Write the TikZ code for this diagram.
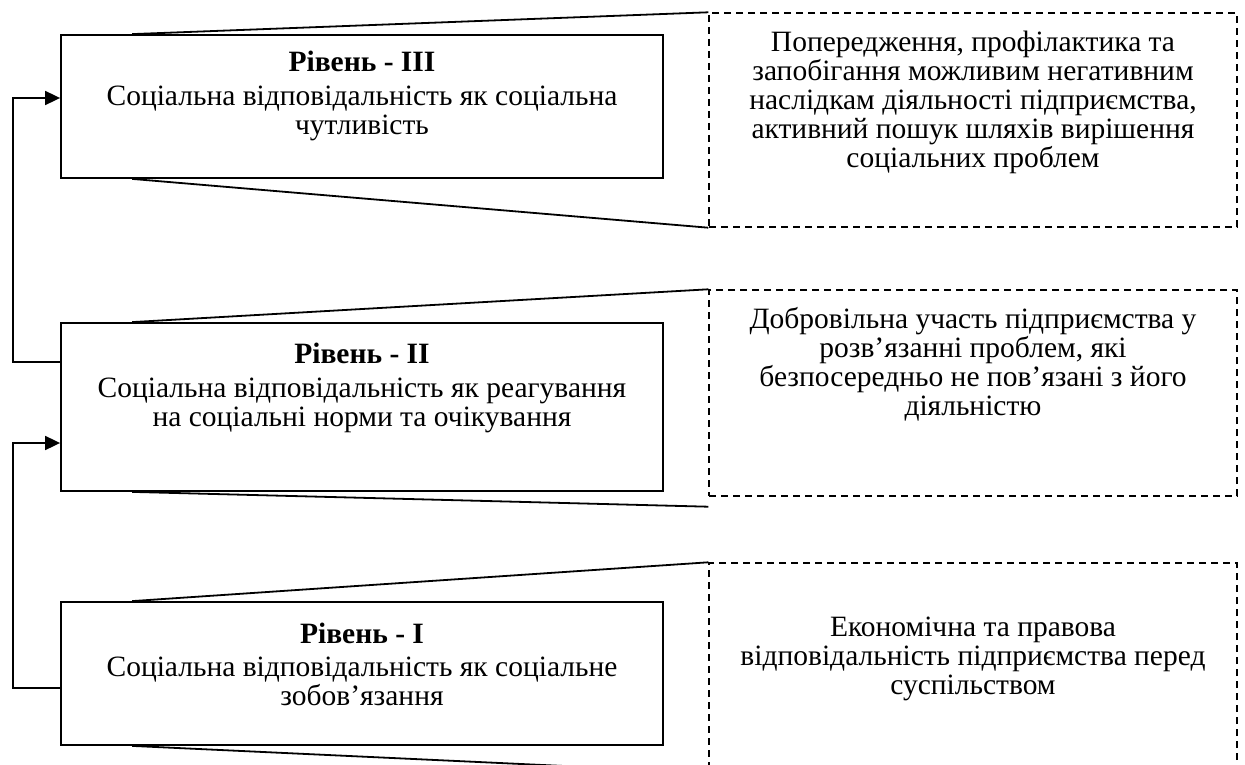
\documentclass[tikz,border=0pt]{standalone}
\usepackage{fontspec}
\setmainfont{Liberation Serif}
\usetikzlibrary{arrows.meta}
\begin{document}
\begin{tikzpicture}[x=1pt,y=-1pt,
  lvlbox/.style={draw, line width=1.8pt, minimum width=602pt, minimum height=143pt, inner sep=0pt},
  descbox/.style={draw, line width=1.4pt, dash pattern=on 7pt off 5pt, minimum width=528pt, inner sep=0pt},
  txt/.style={align=center, inner sep=0pt, font=\fontsize{29.5}{29}\selectfont},
  callout/.style={line width=1.8pt},
  conn/.style={line width=1.8pt, -{Triangle[length=15pt,width=14pt]}}]
\useasboundingbox (0,0) rectangle (1245,765);
\clip (0,0) rectangle (1245,765);
\fill[white] (0,0) rectangle (1245,765);

% level boxes
\node[lvlbox] (b3) at (362,106.5) {};
\node[lvlbox, minimum height=168pt] (b2) at (362,407) {};
\node[lvlbox] (b1) at (362,673.5) {};

% description boxes
\node[descbox, minimum height=214pt] (d3) at (973,120) {};
\node[descbox, minimum height=206pt] (d2) at (973,393) {};
\node[descbox, minimum height=209pt] (d1) at (973,667.5) {};

% callout lines
\draw[callout] ([xshift=72pt]b3.north west) -- (d3.north west);
\draw[callout] ([xshift=72pt]b3.south west) -- (d3.south west);
\draw[callout] ([xshift=72pt]b2.north west) -- (d2.north west);
\draw[callout] ([xshift=72pt]b2.south west) -- ([yshift=-10pt]d2.south west);
\draw[callout] ([xshift=72pt]b1.north west) -- (d1.north west);
\draw[callout] ([xshift=72pt]b1.south west) -- (d1.south west);

% texts in level boxes
\node[txt] (t3) at (362,96) {\textbf{Рівень - III}\\[4.5pt]Соціальна відповідальність як соціальна\\чутливість};
\node[txt] (t2) at (362,388) {\textbf{Рівень - II}\\[4.5pt]Соціальна відповідальність як реагування\\на соціальні норми та очікування};
\node[txt] (t1) at (362,664.5) {\textbf{Рівень - I}\\[4.5pt]Соціальна відповідальність як соціальне\\зобов’язання};

% texts in description boxes
\node[txt] (s3) at (973,102) {Попередження, профілактика та\\запобігання можливим негативним\\наслідкам діяльності підприємства,\\активний пошук шляхів вирішення\\соціальних проблем};
\node[txt] (s2) at (973,364.5) {Добровільна участь підприємства у\\розв’язанні проблем, які\\безпосередньо не пов’язані з його\\діяльністю};
\node[txt] (s1) at (973,659) {Економічна та правова\\відповідальність підприємства перед\\суспільством};

% connectors
\draw[conn] (b2.west |- 0,362) -| (13,98) -- (b3.west |- 0,98);
\draw[conn] (b1.west |- 0,688) -| (13,443) -- (b2.west |- 0,443);
\end{tikzpicture}
\end{document}
